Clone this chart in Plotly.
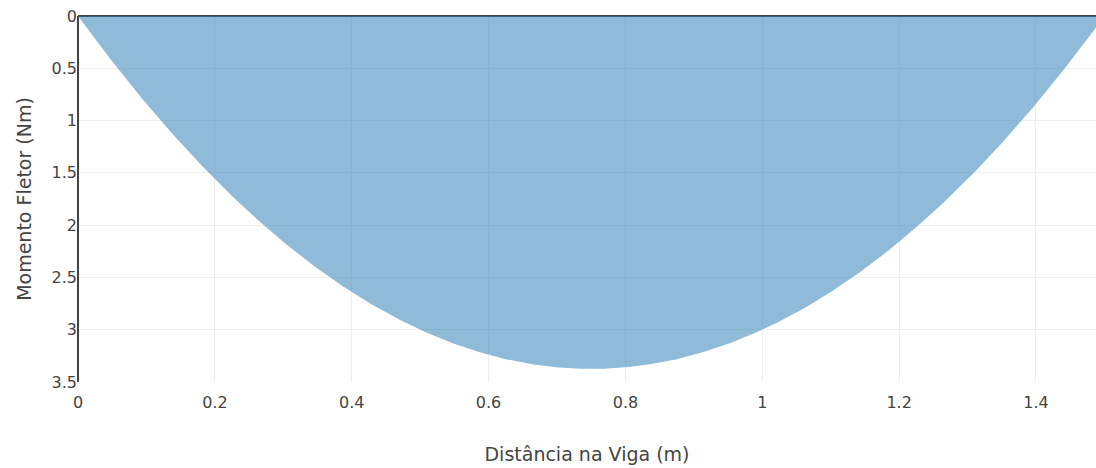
import numpy as np
import plotly.graph_objects as go

# Simply supported beam, uniform load: bending moment along the span
span_m = 1.5
load_n_per_m = 12.0
positions_m = np.round(np.linspace(0, span_m, 601), 5)
moment_nm = load_n_per_m * positions_m * (span_m - positions_m) / 2

x_ticks = [0, 0.2, 0.4, 0.6, 0.8, 1, 1.2, 1.4]
y_ticks = [0, 0.5, 1, 1.5, 2, 2.5, 3, 3.5]

fig = go.Figure(
    go.Scatter(
        x=positions_m,
        y=moment_nm,
        mode="lines",
        line=dict(width=0, color="#1f77b4"),
        fill="tozeroy",
        fillcolor="rgba(31,119,180,0.5)",
        hoverinfo="x+y",
    )
)

font_family = "DejaVu Sans"
fig.update_layout(
    template="none",
    width=1096,
    height=468,
    margin=dict(l=78, r=0, t=16, b=86),
    paper_bgcolor="white",
    plot_bgcolor="white",
    font=dict(family=font_family, color="#444", size=16),
    showlegend=False,
    xaxis=dict(
        title=dict(text="Distância na Viga (m)", font=dict(size=19), standoff=36),
        range=[0, 1.4877],
        tickvals=x_ticks,
        ticktext=[str(v) for v in x_ticks],
        showgrid=True,
        gridcolor="#eee",
        zeroline=True,
        zerolinecolor="#444",
        zerolinewidth=2,
        showline=False,
        ticks="outside",
        ticklen=6,
        tickcolor="rgba(0,0,0,0)",
    ),
    yaxis=dict(
        title=dict(text="Momento Fletor (Nm)", font=dict(size=19), standoff=14),
        range=[3.5, 0],
        tickvals=y_ticks,
        ticktext=[f"{v:g}" for v in y_ticks],
        showgrid=True,
        gridcolor="#eee",
        zeroline=True,
        zerolinecolor="#444",
        zerolinewidth=2,
        showline=False,
        ticks="",
    ),
)

fig.write_html("out.html")
